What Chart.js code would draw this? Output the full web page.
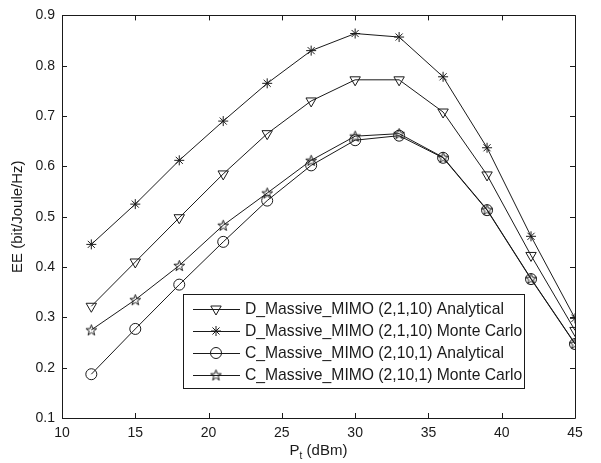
<!DOCTYPE html>
<html>
<head>
<meta charset="utf-8">
<script src="https://cdn.jsdelivr.net/npm/chart.js@4.4.1/dist/chart.umd.min.js"></script>
<style>
  body { margin: 0; background: #fff; }
</style>
</head>
<body>
<canvas id="myChart" width="601" height="463"></canvas>
<script>
const powers = [12, 15, 18, 21, 24, 27, 30, 33, 36, 39, 42, 45];
const dAnalytical = [0.322, 0.41, 0.498, 0.585, 0.665, 0.73, 0.772, 0.772, 0.708, 0.583, 0.423, 0.274];
const dMonteCarlo = [0.445, 0.525, 0.612, 0.69, 0.765, 0.83, 0.864, 0.857, 0.778, 0.637, 0.461, 0.298];
const cAnalytical = [0.187, 0.277, 0.365, 0.45, 0.532, 0.602, 0.652, 0.661, 0.617, 0.513, 0.376, 0.247];
const cMonteCarlo = [0.275, 0.335, 0.403, 0.483, 0.547, 0.612, 0.66, 0.665, 0.618, 0.514, 0.377, 0.248];
const seriesNames = [
  "D_Massive_MIMO (2,1,10) Analytical",
  "D_Massive_MIMO (2,1,10) Monte Carlo",
  "C_Massive_MIMO (2,10,1) Analytical",
  "C_Massive_MIMO (2,10,1) Monte Carlo",
];
const yTicks = [0.1, 0.2, 0.3, 0.4, 0.5, 0.6, 0.7, 0.8, 0.9];
const xTicks = [10, 15, 20, 25, 30, 35, 40, 45];

const ink = "#1a1a1a";
const FONT = "Liberation Sans, Arial, sans-serif";

// pentagram marker (MATLAB 'p')
function makePentagram(size) {
  const c = document.createElement("canvas");
  c.width = size;
  c.height = size;
  const g = c.getContext("2d");
  const cx = size / 2, cy = size / 2 + 0.5;
  const ro = size / 2 - 0.8, ri = ro * 0.4;
  g.beginPath();
  for (let i = 0; i < 10; i++) {
    const r = i % 2 === 0 ? ro : ri;
    const a = -Math.PI / 2 + (i * Math.PI) / 5;
    const px = cx + r * Math.cos(a), py = cy + r * Math.sin(a);
    if (i === 0) g.moveTo(px, py);
    else g.lineTo(px, py);
  }
  g.closePath();
  g.strokeStyle = ink;
  g.lineWidth = 1;
  g.stroke();
  return c;
}
const pentagram = makePentagram(13);

const markers = [
  { pointStyle: "triangle", radius: 6, rotation: 180 },
  { pointStyle: "star", radius: 5, rotation: 0 },
  { pointStyle: "circle", radius: 5.5, rotation: 0 },
  { pointStyle: pentagram, radius: 6, rotation: 0 },
];

function toPoints(vals) {
  return powers.map((p, i) => ({ x: p, y: vals[i] }));
}

const allSeries = [dAnalytical, dMonteCarlo, cAnalytical, cMonteCarlo];

const datasets = allSeries.map((vals, i) => ({
  label: seriesNames[i],
  data: toPoints(vals),
  borderColor: ink,
  borderWidth: 1,
  backgroundColor: "rgba(0,0,0,0)",
  pointBorderColor: ink,
  pointBackgroundColor: "rgba(0,0,0,0)",
  pointBorderWidth: 1,
  pointStyle: markers[i].pointStyle,
  pointRadius: markers[i].radius,
  pointRotation: markers[i].rotation,
  tension: 0,
  fill: false,
}));

// box, inward ticks, titles and legend in MATLAB style
const matlabFrame = {
  id: "matlabFrame",
  afterDraw(chart) {
    const ctx = chart.ctx;
    const a = chart.chartArea;
    const xs = chart.scales.x, ys = chart.scales.y;
    ctx.save();
    ctx.strokeStyle = ink;
    ctx.lineWidth = 1;
    ctx.beginPath();
    ctx.rect(Math.round(a.left) + 0.5, Math.round(a.top) + 0.5,
      Math.round(a.right - a.left), Math.round(a.bottom - a.top));
    ctx.stroke();

    const tl = 5;
    ctx.beginPath();
    xTicks.forEach((v) => {
      const px = Math.round(xs.getPixelForValue(v)) + 0.5;
      ctx.moveTo(px, a.bottom);
      ctx.lineTo(px, a.bottom - tl);
      ctx.moveTo(px, a.top);
      ctx.lineTo(px, a.top + tl);
    });
    yTicks.forEach((v) => {
      const py = Math.round(ys.getPixelForValue(v)) + 0.5;
      ctx.moveTo(a.left, py);
      ctx.lineTo(a.left + tl, py);
      ctx.moveTo(a.right, py);
      ctx.lineTo(a.right - tl, py);
    });
    ctx.stroke();

    // axis titles
    ctx.fillStyle = ink;
    ctx.textBaseline = "alphabetic";
    const cx = (a.left + a.right) / 2;
    ctx.font = "15px " + FONT;
    const w1 = ctx.measureText("P").width;
    ctx.font = "10px " + FONT;
    const w2 = ctx.measureText("t").width;
    ctx.font = "15px " + FONT;
    const w3 = ctx.measureText(" (dBm)").width;
    let tx = cx - (w1 + w2 + w3) / 2;
    const ty = 455;
    ctx.textAlign = "left";
    ctx.fillText("P", tx, ty);
    ctx.font = "10px " + FONT;
    ctx.fillText("t", tx + w1, ty + 4);
    ctx.font = "15px " + FONT;
    ctx.fillText(" (dBm)", tx + w1 + w2, ty);

    ctx.save();
    ctx.translate(18, (a.top + a.bottom) / 2);
    ctx.rotate(-Math.PI / 2);
    ctx.textAlign = "center";
    ctx.textBaseline = "middle";
    ctx.fillText("EE (bit/Joule/Hz)", 0, 0);
    ctx.restore();

    // legend
    const lx = 183.5, ly = 294.5, lw = 341, lh = 94;
    ctx.fillStyle = "#fff";
    ctx.fillRect(lx, ly, lw, lh);
    ctx.strokeStyle = ink;
    ctx.strokeRect(lx, ly, lw, lh);
    ctx.font = "15.7px " + FONT;
    ctx.textAlign = "left";
    ctx.textBaseline = "middle";
    seriesNames.forEach((name, i) => {
      const rowY = 309 + i * 22;
      ctx.strokeStyle = ink;
      ctx.beginPath();
      ctx.moveTo(193, rowY + 0.5);
      ctx.lineTo(240, rowY + 0.5);
      ctx.stroke();
      ctx.fillStyle = "rgba(0,0,0,0)";
      Chart.helpers.drawPoint(ctx, {
        pointStyle: markers[i].pointStyle,
        radius: markers[i].radius,
        rotation: markers[i].rotation,
        borderWidth: 1,
      }, 216, rowY);
      ctx.fillStyle = ink;
      ctx.fillText(name, 245, rowY + 1);
    });
    ctx.restore();
  },
};

const ctx = document.getElementById("myChart").getContext("2d");
const myChart = new Chart(ctx, {
  type: "line",
  data: { datasets },
  options: {
    responsive: false,
    animation: false,
    layout: { padding: { left: 0, top: 14, right: 26, bottom: 0 } },
    plugins: {
      legend: { display: false },
      tooltip: { enabled: false },
    },
    scales: {
      x: {
        type: "linear",
        min: 10,
        max: 45,
        afterBuildTicks: (scale) => {
          scale.ticks = xTicks.map((v) => ({ value: v }));
        },
        afterFit: (scale) => {
          scale.height = 45;
        },
        grid: { display: false, drawTicks: false },
        border: { display: false },
        ticks: {
          color: ink,
          padding: 7,
          maxRotation: 0,
          font: { family: FONT, size: 14 },
        },
      },
      y: {
        type: "linear",
        min: 0.1,
        max: 0.9,
        afterBuildTicks: (scale) => {
          scale.ticks = yTicks.map((v) => ({ value: v }));
        },
        afterFit: (scale) => {
          scale.width = 62;
        },
        grid: { display: false, drawTicks: false },
        border: { display: false },
        ticks: {
          color: ink,
          padding: 7,
          font: { family: FONT, size: 14 },
          callback: (value) => value.toFixed(1),
        },
      },
    },
  },
  plugins: [matlabFrame],
});
</script>
</body>
</html>
